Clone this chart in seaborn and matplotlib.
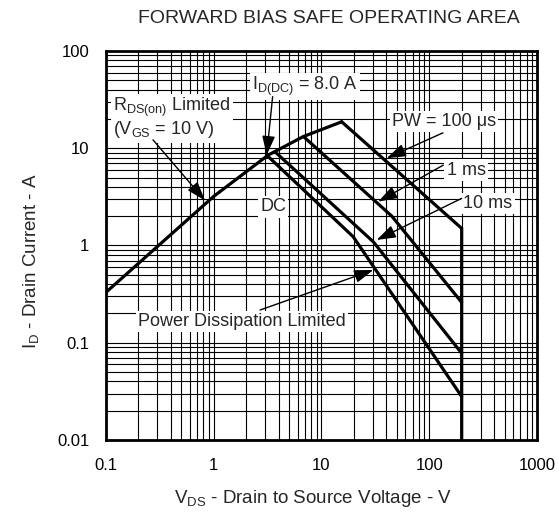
import matplotlib
matplotlib.use("Agg")
import matplotlib.pyplot as plt
import seaborn as sns
import pandas as pd
from matplotlib.ticker import LogLocator, NullFormatter, FixedLocator, FixedFormatter

# limit envelope: RDS(on) line then the top of the pulse curves
limit_v = [0.1, 1.0, 3.2, 6.8, 15.4]
limit_i = [0.33, 3.2, 8.5, 13.2, 18.7]

pw100_v = [15.4, 200, 200]
pw100_i = [18.7, 1.5, 0.01]

ms1_v = [6.8, 45, 200]
ms1_i = [13.2, 2.0, 0.26]

ms10_v = [3.7, 30.3, 200]
ms10_i = [9.2, 1.09, 0.078]

dc_v = [3.1, 19.7, 200]
dc_i = [8.5, 1.23, 0.028]

x_ticks = [0.1, 1, 10, 100, 1000]
x_labels = ["0.1", "1", "10", "100", "1000"]
y_ticks = [0.01, 0.1, 1, 10, 100]
y_labels = ["0.01", "0.1", "1", "10", "100"]

curves = {"limit": (limit_v, limit_i), "100us": (pw100_v, pw100_i),
          "1ms": (ms1_v, ms1_i), "10ms": (ms10_v, ms10_i), "dc": (dc_v, dc_i)}
rows = []
for name, (vs, cs) in curves.items():
    for k, (v, c) in enumerate(zip(vs, cs)):
        rows.append({"curve": name, "order": k, "vds": v, "id": c})
df = pd.DataFrame(rows)

sns.set_theme(style="white")
plt.rcParams["font.family"] = ["Liberation Sans", "DejaVu Sans"]
plt.rcParams["mathtext.fontset"] = "custom"
plt.rcParams["mathtext.rm"] = "Liberation Sans"
plt.rcParams["mathtext.it"] = "Liberation Sans"

fig = plt.figure(figsize=(5.59, 5.16), dpi=100)
ax = fig.add_axes([0.1896, 0.1473, 0.771, 0.7539])
ax.set_xscale("log")
ax.set_yscale("log")
ax.set_xlim(0.1, 1000)
ax.set_ylim(0.01, 100)

# grid
ax.xaxis.set_minor_locator(LogLocator(base=10, subs=range(2, 10), numticks=20))
ax.yaxis.set_minor_locator(LogLocator(base=10, subs=range(2, 10), numticks=20))
ax.xaxis.set_minor_formatter(NullFormatter())
ax.yaxis.set_minor_formatter(NullFormatter())
ax.grid(True, which="both", color="black", linewidth=0.8)
ax.set_axisbelow(True)

for name in curves:
    sns.lineplot(data=df[df["curve"] == name], x="vds", y="id", sort=False,
                 color="black", linewidth=2.3, ax=ax, estimator=None,
                 solid_joinstyle="miter", zorder=3)

ax.xaxis.set_major_locator(FixedLocator(x_ticks))
ax.xaxis.set_major_formatter(FixedFormatter(x_labels))
ax.yaxis.set_major_locator(FixedLocator(y_ticks))
ax.yaxis.set_major_formatter(FixedFormatter(y_labels))
ax.tick_params(axis="both", which="both", length=0, labelsize=12, colors="black")
ax.tick_params(axis="x", pad=13)
ax.tick_params(axis="y", pad=12)

for s in ax.spines.values():
    s.set_color("black")
    s.set_linewidth(2)

ax.set_xlabel(r"V$_{\rm DS}$ - Drain to Source Voltage - V", fontsize=13.5)
ax.xaxis.set_label_coords(0.48, -0.123)
ax.set_ylabel(r"I$_{\rm D}$ - Drain Current - A", fontsize=13.5)
ax.yaxis.set_label_coords(-0.15, 0.46)
fig.text(0.588, 0.965, "FORWARD BIAS SAFE OPERATING AREA", ha="center", va="center",
         fontsize=14)

box = dict(facecolor="white", edgecolor="none", pad=1.5)
arrow = dict(arrowstyle="-|>,head_length=0.65,head_width=0.22", color="black", lw=1,
             mutation_scale=18, shrinkA=0, shrinkB=0)
fs = 13

ax.text(2.25, 43, r"I$_{\rm D(DC)}$ = 8.0 A", fontsize=fs, va="center", bbox=box, zorder=4)
ax.annotate("", xy=(3.1, 8.5), xytext=(3.52, 33.9), arrowprops=arrow, zorder=5)

ax.text(0.116, 26, r"R$_{\rm DS(on)}$ Limited", fontsize=fs, va="center", bbox=box, zorder=4)
ax.text(0.116, 15.4, r"(V$_{\rm GS}$ = 10 V)", fontsize=fs, va="center", bbox=box, zorder=4)
ax.annotate("", xy=(0.83, 2.9), xytext=(0.273, 12.2), arrowprops=arrow, zorder=5)

ax.text(3.55, 2.49, "DC", fontsize=fs, ha="center", va="center", bbox=box, zorder=4)

ax.text(44.9, 18.7, "PW = 100 μs", fontsize=fs, va="center", bbox=box, zorder=4)
ax.annotate("", xy=(40.3, 7.9), xytext=(134, 14.4), arrowprops=arrow, zorder=5)

ax.text(145, 5.97, "1 ms", fontsize=fs, va="center", bbox=box, zorder=4)
ax.annotate("", xy=(33.6, 2.82), xytext=(135, 6.7), arrowprops=arrow, zorder=5)

ax.text(207, 2.72, "10 ms", fontsize=fs, va="center", bbox=box, zorder=4)
ax.annotate("", xy=(32.5, 1.14), xytext=(200, 3.05), arrowprops=arrow, zorder=5)

ax.text(0.2, 0.165, "Power Dissipation Limited", fontsize=fs, va="center", bbox=box, zorder=4)
ax.annotate("", xy=(30.3, 0.56), xytext=(2.69, 0.217), arrowprops=arrow, zorder=5)

fig.savefig("out.png", dpi=100)
